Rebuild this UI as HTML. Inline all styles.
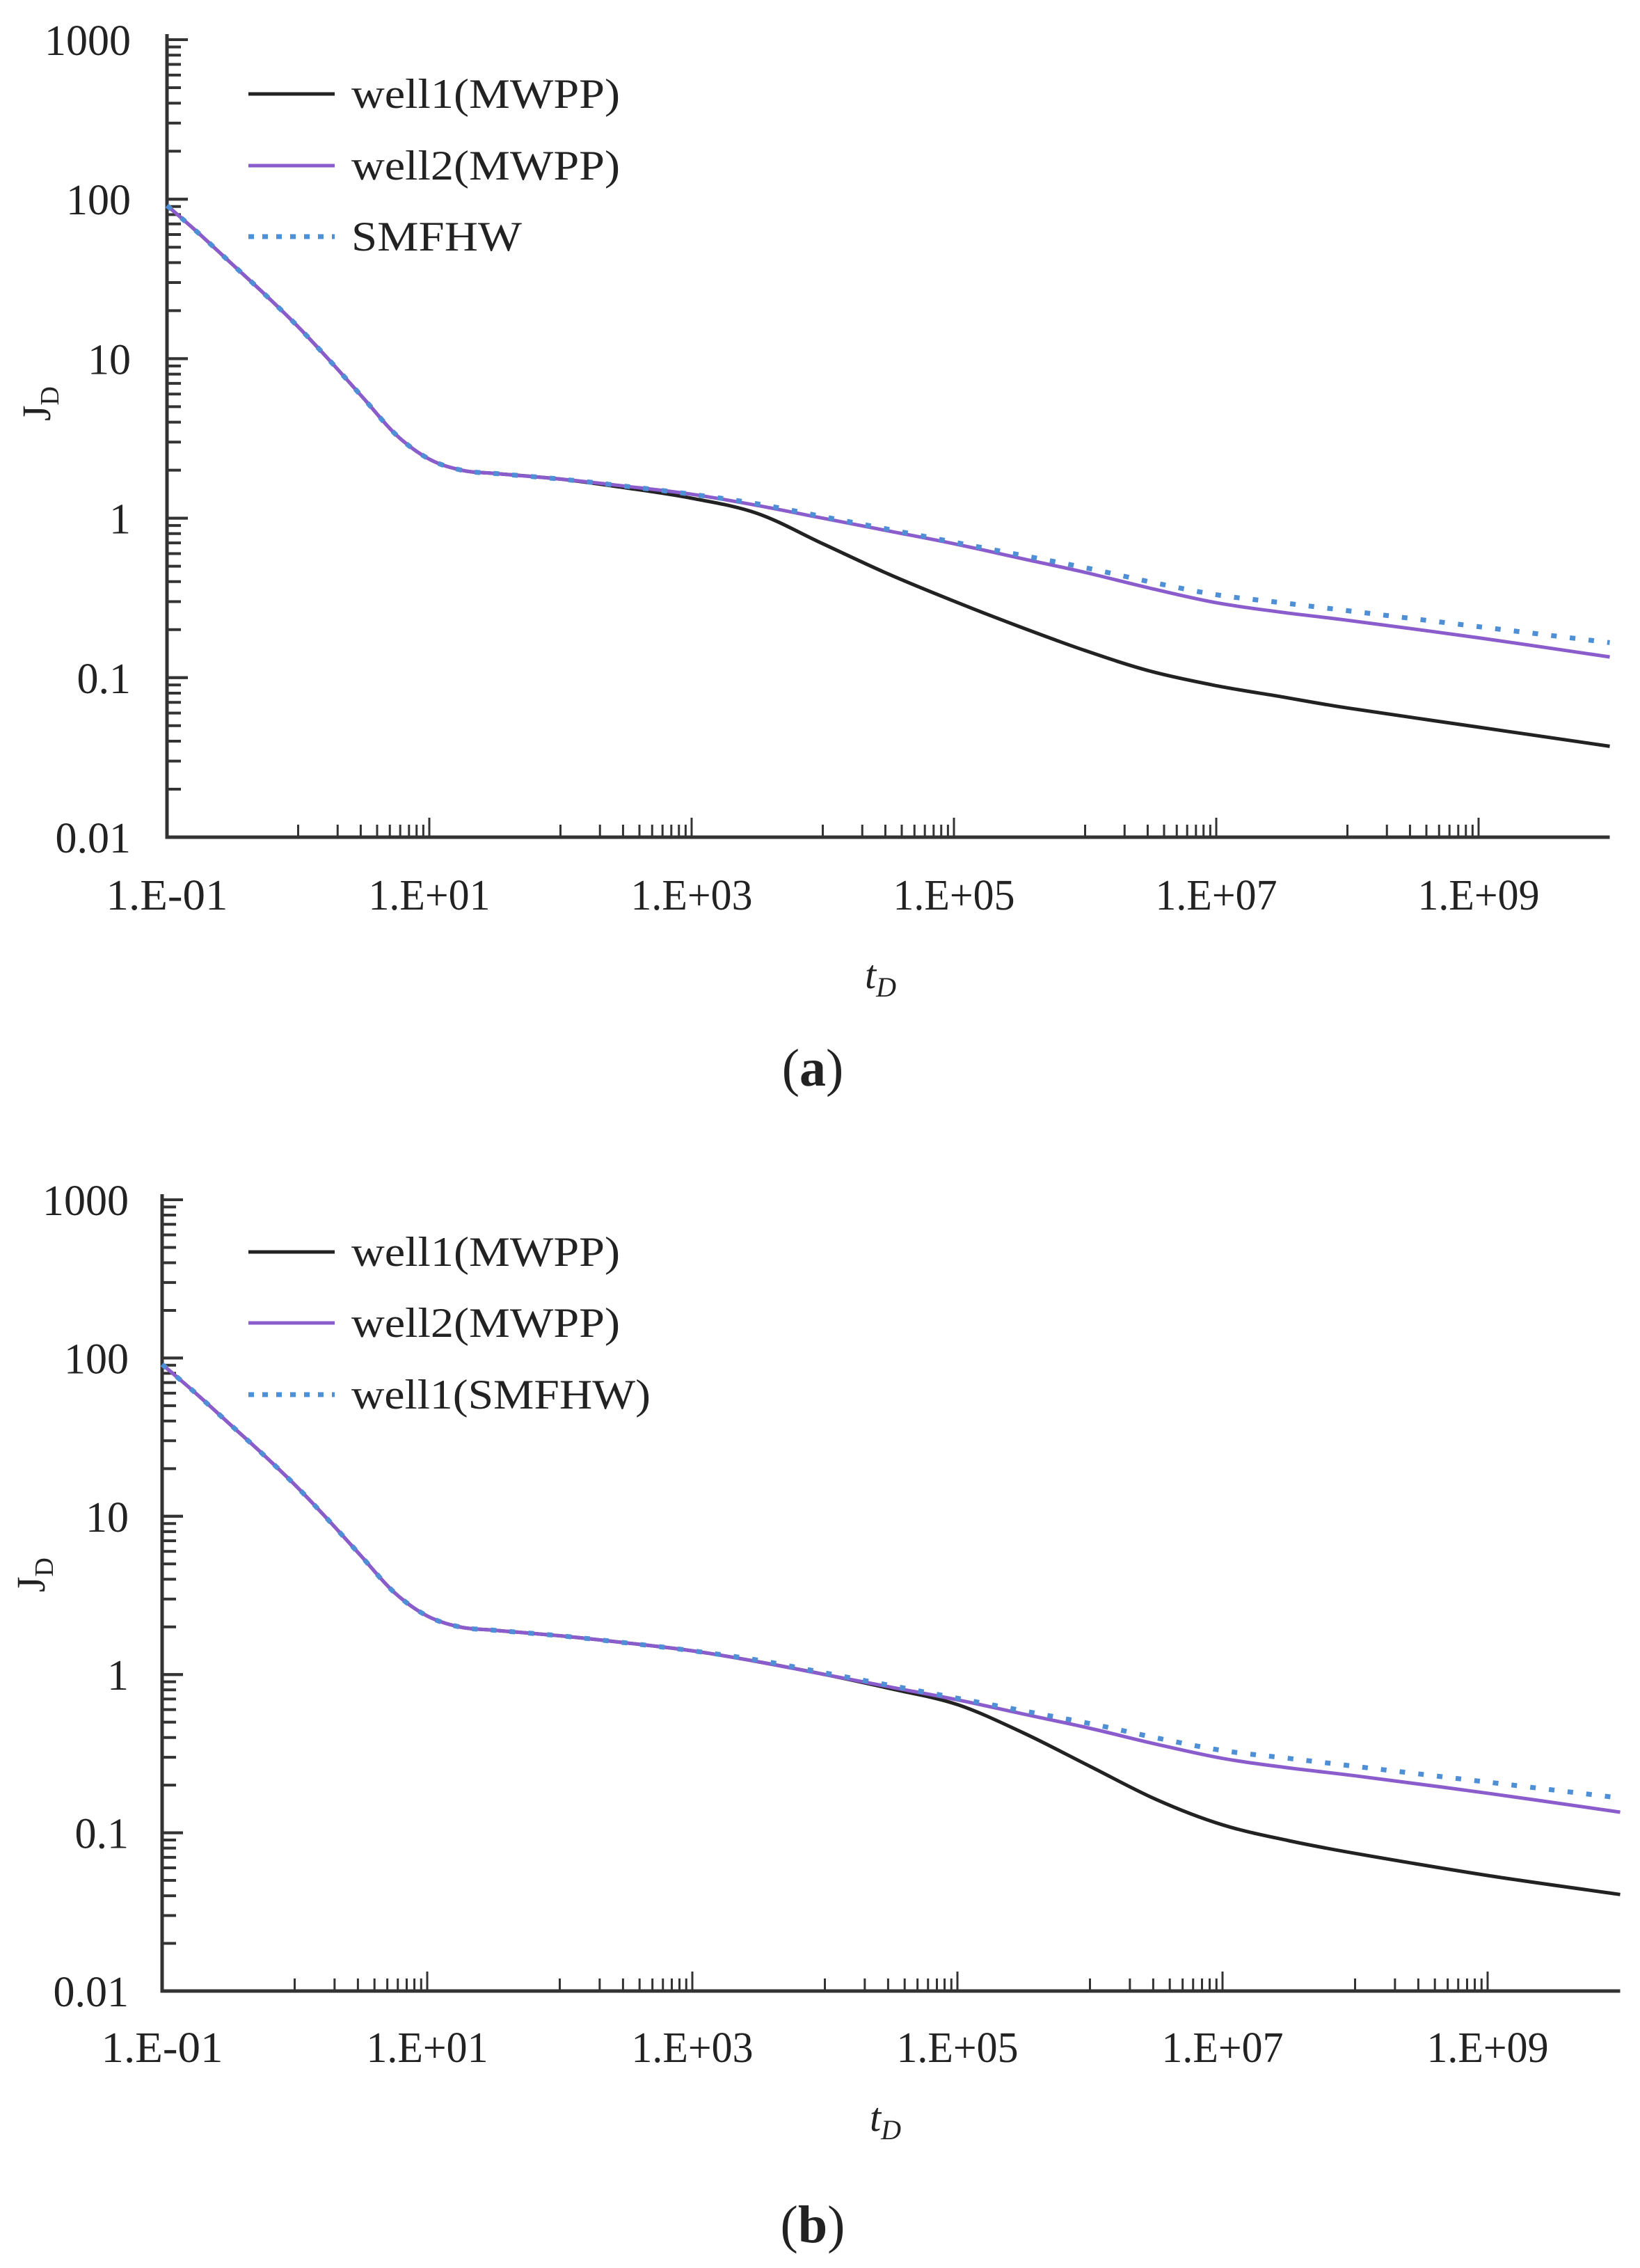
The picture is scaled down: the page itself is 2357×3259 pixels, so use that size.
<!DOCTYPE html>
<html><head><meta charset="utf-8">
<style>
html,body{margin:0;padding:0;background:#fff;}
svg{display:block;}
text{font-family:"Liberation Serif",serif;fill:#222;}
</style></head>
<body>
<svg id="s" width="2357" height="3259" viewBox="0 0 2357 3259" xmlns="http://www.w3.org/2000/svg">
<rect width="2357" height="3259" fill="#fff"/>
<g id="g"></g>
</svg>
<script>
const NS="http://www.w3.org/2000/svg";
const g=document.getElementById('g');
function el(tag,attrs,txt){const e=document.createElementNS(NS,tag);for(const k in attrs)e.setAttribute(k,attrs[k]);if(txt!==undefined)e.textContent=txt;g.appendChild(e);return e;}
function path(pts){
  let d="M"+pts[0][0].toFixed(1)+","+pts[0][1].toFixed(1);
  for(let i=0;i<pts.length-1;i++){
    const p0=pts[Math.max(0,i-1)],p1=pts[i],p2=pts[i+1],p3=pts[Math.min(pts.length-1,i+2)];
    const c1=[p1[0]+(p2[0]-p0[0])/6,p1[1]+(p2[1]-p0[1])/6];
    const c2=[p2[0]-(p3[0]-p1[0])/6,p2[1]-(p3[1]-p1[1])/6];
    d+=" C"+c1[0].toFixed(1)+","+c1[1].toFixed(1)+" "+c2[0].toFixed(1)+","+c2[1].toFixed(1)+" "+p2[0].toFixed(1)+","+p2[1].toFixed(1);
  }
  return d;
}
const early=[[-1,1.96],[-0.75,1.78],[-0.5,1.59],[-0.25,1.4],[0,1.2],[0.25,0.98],[0.5,0.75],[0.75,0.52],[1,0.37],[1.25,0.3],[1.5,0.28],[2,0.245],[2.5,0.2],[3,0.15]];
const purple=early.concat([[3.5,0.08],[4,0.0],[4.5,-0.08],[5,-0.16],[5.5,-0.25],[6,-0.34],[6.5,-0.44],[7,-0.53],[7.5,-0.59],[8,-0.64],[9,-0.75],[10,-0.87]]);
const blue=early.concat([[3.5,0.09],[4,0.01],[4.5,-0.07],[5,-0.15],[5.5,-0.23],[6,-0.31],[6.5,-0.4],[7,-0.48],[7.5,-0.53],[8,-0.58],[9,-0.68],[10,-0.78]]);
const blackA=early.slice(0,12).concat([[2.5,0.19],[3,0.125],[3.5,0.03],[4,-0.16],[4.5,-0.35],[5,-0.52],[5.5,-0.68],[6,-0.83],[6.5,-0.96],[7,-1.05],[7.5,-1.12],[8,-1.19],[9,-1.31],[10,-1.43]]);
const blackB=early.concat([[3.5,0.08],[4,0.0],[4.5,-0.09],[5,-0.19],[5.5,-0.37],[6,-0.58],[6.5,-0.79],[7,-0.95],[7.5,-1.05],[8,-1.13],[9,-1.27],[10,-1.39]]);

function panel(P){
  const X=l=>P.x0+(l+1)*P.dx, Y=l=>P.ytop+(3-l)*P.dy;
  const xend=X(10);
  for(let d=-2;d<3;d++){for(let k=1;k<=10;k++){const y=Y(d+Math.log10(k));const len=(k===1||k===10)?30:20;el('line',{x1:P.x0,y1:y,x2:P.x0+len,y2:y,stroke:'#333','stroke-width':4});}}
  for(const n of [0,2,4,6,8]){for(let k=1;k<=10;k++){const x=X(n+Math.log10(k));const len=k===10?28:18;el('line',{x1:x,y1:P.yb,x2:x,y2:P.yb-len,stroke:'#333','stroke-width':3});}}
  el('polyline',{points:`${P.x0},${P.ytop-8} ${P.x0},${P.yb} ${xend},${P.yb}`,fill:'none',stroke:'#333','stroke-width':5});
  const yl=['1000','100','10','1','0.1','0.01'];
  yl.forEach((t,i)=>el('text',{x:P.ylx,y:Y(3-i)+22,'text-anchor':'end','font-size':62},t));
  const xl=['1.E-01','1.E+01','1.E+03','1.E+05','1.E+07','1.E+09'];
  xl.forEach((t,i)=>el('text',{x:X(-1+2*i),y:P.xly,'text-anchor':'middle','font-size':62,textLength:175,lengthAdjust:'spacingAndGlyphs'},t));
  const tp=a=>a.map(p=>[X(p[0]),Y(p[1])]);
  el('path',{d:path(tp(P.black)),fill:'none',stroke:'#222','stroke-width':5});
  el('path',{d:path(tp(purple)),fill:'none',stroke:'#8a5ccc','stroke-width':5});
  el('path',{d:path(tp(blue)),fill:'none',stroke:'#4f8fd6','stroke-width':7,'stroke-dasharray':'8 19'});
  const L=P.leg;
  el('line',{x1:357,y1:L[0],x2:481,y2:L[0],stroke:'#222','stroke-width':5});
  el('line',{x1:357,y1:L[1],x2:481,y2:L[1],stroke:'#8a5ccc','stroke-width':5});
  el('line',{x1:357,y1:L[2],x2:481,y2:L[2],stroke:'#4f8fd6','stroke-width':7,'stroke-dasharray':'8 12'});
  el('text',{x:505,y:L[0]+20,'font-size':60,textLength:386,lengthAdjust:'spacingAndGlyphs'},'well1(MWPP)');
  el('text',{x:505,y:L[1]+20,'font-size':60,textLength:386,lengthAdjust:'spacingAndGlyphs'},'well2(MWPP)');
  el('text',{x:505,y:L[2]+20,'font-size':60,textLength:P.l3w,lengthAdjust:'spacingAndGlyphs'},P.l3);
  const j=el('text',{x:0,y:0,'font-size':58,transform:`translate(${P.jx},${P.jy}) rotate(-90)`,'text-anchor':'middle'});
  j.innerHTML='J<tspan font-size="38" dy="12">D</tspan>';
  const t=el('text',{x:P.tx,y:P.ty,'font-size':58,'font-style':'italic'});
  t.innerHTML='t<tspan font-size="40" dy="12">D</tspan>';
  const c=el('text',{x:1168,y:P.cy,'font-size':76,'text-anchor':'middle',fill:'#000'});
  c.innerHTML='(<tspan font-weight="bold">'+P.cap+'</tspan>)';
}
panel({x0:240,dx:188.5,ytop:57,dy:229.2,yb:1203,ylx:188,xly:1307,black:blackA,leg:[135,238,340],l3:'SMFHW',l3w:245,jx:72,jy:580,tx:1243,ty:1420,cy:1560,cap:'a'});
panel({x0:233,dx:190.5,ytop:1724,dy:227.4,yb:2861,ylx:185,xly:2963,black:blackB,leg:[1799,1901,2004],l3:'well1(SMFHW)',l3w:430,jx:64,jy:2263,tx:1250,ty:3062,cy:3222,cap:'b'});
</script>
</body></html>
